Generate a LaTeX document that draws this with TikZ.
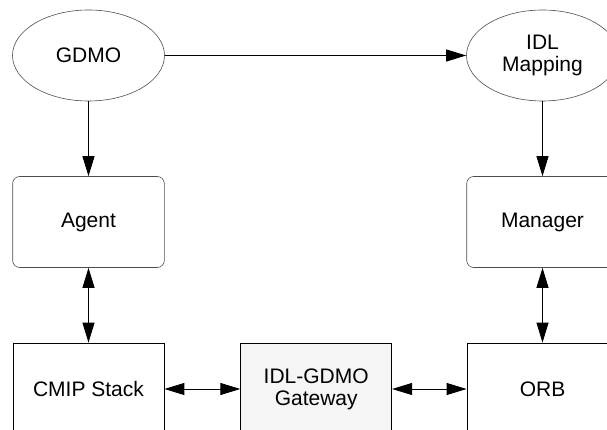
\documentclass[tikz,border=0pt]{standalone}
\usepackage{fontspec}
\setmainfont{Liberation Sans}
\usetikzlibrary{shapes.geometric,arrows.meta}
\definecolor{gwfill}{RGB}{245,245,245}
\begin{document}
\begin{tikzpicture}[x=1pt,y=-1pt,
  lbl/.style={align=center,font=\fontsize{21}{22}\selectfont,text=black},
  ell/.style={lbl,draw=black!70,line width=0.6pt,ellipse,minimum width=152pt,minimum height=91pt,inner sep=0pt},
  rbox/.style={lbl,draw=black!70,line width=0.6pt,rounded corners=7pt,rectangle,minimum width=151.6pt,minimum height=91pt,inner sep=0pt},
  sbox/.style={lbl,draw=black,line width=0.8pt,rectangle,minimum width=151pt,minimum height=92pt,inner sep=0pt},
  tip/.tip={Triangle[length=20pt,width=12pt]},
  conn/.style={draw=black,line width=0.9pt,-tip},
  bidir/.style={draw=black,line width=0.9pt,tip-tip}
]
\useasboundingbox (0,0) rectangle (607,430);
\clip (0,0) rectangle (607,430);

\node[ell] (gdmo) at (88.5,55.5) {GDMO};
\node[ell] (idl) at (542.5,55.5) {IDL\\Mapping};
\node[rbox] (agent) at (88.5,222) {Agent};
\node[rbox] (manager) at (542.5,222) {Manager};
\node[sbox] (cmip) at (88.5,389) {CMIP Stack};
\node[sbox,fill=gwfill] (gw) at (316.2,389) {IDL-GDMO\\Gateway};
\node[sbox] (orb) at (542.5,389) {ORB};

\draw[conn] (gdmo) -- (idl);
\draw[conn] (gdmo) -- (agent);
\draw[conn] (idl) -- (manager);
\draw[bidir] (agent) -- (cmip);
\draw[bidir] (manager) -- (orb);
\draw[bidir] (cmip) -- (gw);
\draw[bidir] (gw) -- (orb);
\end{tikzpicture}
\end{document}
